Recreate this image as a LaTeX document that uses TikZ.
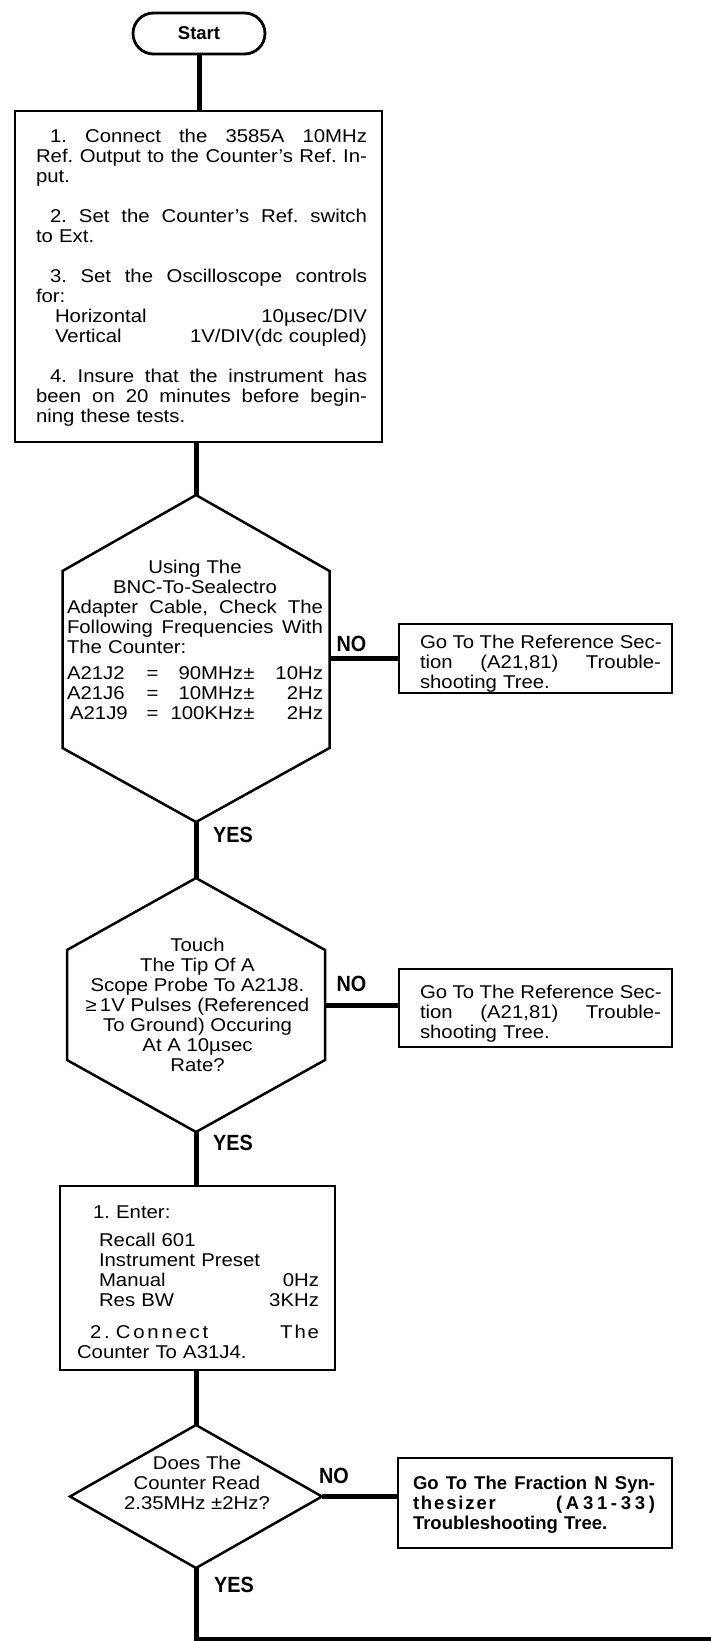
\documentclass[tikz,border=0pt]{standalone}
\usepackage{fontspec}
\setmainfont{Liberation Sans}[FakeStretch=1.1]
\newfontfamily\lblfont{Liberation Sans}[FakeStretch=0.9]
\newfontfamily\plainsans{Liberation Sans}
\usetikzlibrary{shapes.misc,calc}
\newcommand{\JLine}[2]{\makebox[#1pt][s]{\spaceskip=0.3em plus 1fil\relax #2}}
\newcommand{\LLine}[2]{\makebox[#1pt][l]{#2}}
\newcommand{\Lsp}[2]{{\addfontfeature{LetterSpace=#1}#2}}
\newcommand{\Trow}[3]{\makebox[78pt][l]{#1}\makebox[15pt][c]{=}\makebox[83pt][r]{#2}\makebox[12pt][c]{±}\makebox[68pt][r]{#3}}
\begin{document}\frenchspacing
\begin{tikzpicture}[x=1pt,y=-1pt,
  txt/.style={font=\fontsize{18.5}{20}\selectfont, inner sep=0pt, align=center},
  shp/.style={draw, line width=2.5pt, inner sep=0pt, fill=white},
  ghost/.style={inner sep=0pt, outer sep=0pt, draw=none},
  outline/.style={line width=2.5pt},
  conn/.style={line width=5pt},
  lbl/.style={font=\lblfont\bfseries\fontsize{22}{22}\selectfont, inner sep=0pt}]
\fill[white] (0,0) rectangle (710,1641);
\useasboundingbox (0,0) rectangle (710,1641);

% Start
\node[shp, rounded rectangle, minimum width=132pt, minimum height=41pt, line width=2.8pt,
      font=\plainsans\bfseries\fontsize{18.5}{20}\selectfont] (start) at (199,33.5) {Start};

% Box 1
\node[shp, minimum width=367pt, minimum height=331pt] (b1) at (198.5,276.5) {};
\node[txt, text width=331pt] (b1t) at (201.5,277.7) {%
\JLine{331}{\hspace*{14pt}1. Connect the 3585A 10MHz}\\
\JLine{331}{Ref. Output to the Counter’s Ref. In-}\\
\LLine{331}{put.}\\[20pt]
\JLine{331}{\hspace*{14pt}2. Set the Counter’s Ref. switch}\\
\LLine{331}{to Ext.}\\[20pt]
\JLine{331}{\hspace*{14pt}3. Set the Oscilloscope controls}\\
\LLine{331}{for:}\\
\LLine{331}{\hspace*{19pt}Horizontal\hfill 10µsec/DIV}\\
\LLine{331}{\hspace*{19pt}Vertical\hfill 1V/DIV(dc coupled)}\\[20pt]
\JLine{331}{\hspace*{14pt}4. Insure that the instrument has}\\
\JLine{331}{been on 20 minutes before begin-}\\
\LLine{331}{ning these tests.}};

% Hexagon 1
\node[ghost, minimum width=267pt, minimum height=327pt] (h1) at (196,658.5) {};
\draw[outline] (h1.north) -- ([yshift=-76pt]h1.north east) -- ([yshift=74pt]h1.south east)
  -- (h1.south) -- ([yshift=74pt]h1.south west) -- ([yshift=-76pt]h1.north west) -- cycle;
\node[txt, text width=256pt] (h1t) at (195,640) {%
Using The\\
BNC-To-Sealectro\\
\JLine{256}{Adapter Cable, Check The}\\
\JLine{256}{Following Frequencies With}\\
\LLine{256}{The Counter:}\\[6pt]
\Trow{A21J2}{90MHz}{10Hz}\\
\Trow{A21J6}{10MHz}{2Hz}\\
\Trow{\,A21J9}{100KHz}{2Hz}};

% NO box 1
\node[shp, minimum width=273pt, minimum height=69pt] (n1) at (535.5,658.5) {};
\node[txt, text width=241pt] (n1t) at (540.5,664) {%
\JLine{241}{Go To The Reference Sec-}\\
\JLine{241}{tion (A21,81) Trouble-}\\
\LLine{241}{shooting Tree.}};

% Hexagon 2
\node[ghost, minimum width=258pt, minimum height=254pt] (h2) at (196,1005) {};
\draw[outline] (h2.north) -- ([yshift=-72pt]h2.north east) -- ([yshift=72pt]h2.south east)
  -- (h2.south) -- ([yshift=72pt]h2.south west) -- ([yshift=-72pt]h2.north west) -- cycle;
\node[txt] (h2t) at (197.5,1005) {%
Touch\\
The Tip Of A\\
Scope Probe To A21J8.\\
≥\,1V Pulses (Referenced\\
To Ground) Occuring\\
At A 10µsec\\
Rate?};

% NO box 2
\node[shp, minimum width=273pt, minimum height=78pt] (n2) at (535.5,1008) {};
\node[txt, text width=241pt] (n2t) at (540.5,1014) {%
\JLine{241}{Go To The Reference Sec-}\\
\JLine{241}{tion (A21,81) Trouble-}\\
\LLine{241}{shooting Tree.}};

% Box 3
\node[shp, minimum width=275pt, minimum height=184pt] (b3) at (197.5,1278) {};
\node[txt, text width=242pt] (b3t) at (198,1282) {%
\LLine{242}{\hspace*{16pt}1. Enter:}\\[8pt]
\LLine{242}{\hspace*{22pt}Recall 601}\\
\LLine{242}{\hspace*{22pt}Instrument Preset}\\
\LLine{242}{\hspace*{22pt}Manual\hfill 0Hz}\\
\LLine{242}{\hspace*{22pt}Res BW\hfill 3KHz}\\[12pt]
\LLine{242}{\hspace*{13pt}\Lsp{15}{2. Connect}\hfill\Lsp{10}{The}}\\
\LLine{242}{Counter To A31J4.}};

% Diamond
\node[ghost, minimum width=252pt, minimum height=143pt] (d) at (196,1496.5) {};
\draw[outline] (d.north) -- (d.east) -- (d.south) -- (d.west) -- cycle;
\node[txt] (dt) at (197,1483) {Does The\\Counter Read\\2.35MHz ±2Hz?};

% NO box 3
\node[shp, minimum width=274pt, minimum height=90pt] (n3) at (535,1503) {};
\node[txt, text width=242pt, font=\plainsans\bfseries\fontsize{18.5}{20}\selectfont] (n3t) at (534,1504.7) {%
\JLine{242}{Go To The Fraction N Syn-}\\
\LLine{242}{\Lsp{10}{thesizer}\hfill\Lsp{20}{(A31-33)}}\\
\LLine{242}{Troubleshooting Tree.}};

% Labels
\node[lbl] (no1) at (351.5,643.5) {NO};
\node[lbl] (no2) at (351.5,983.5) {NO};
\node[lbl] (no3) at (334,1476) {NO};
\node[lbl] (yes1) at (233,834.5) {YES};
\node[lbl] (yes2) at (233,1142.5) {YES};
\node[lbl] (yes3) at (234,1585) {YES};

% Connectors
\draw[conn] (start.south) -- (start.south |- b1.north);
\draw[conn] (h1.north |- b1.south) -- (h1.north);
\draw[conn] (h1.south) -- (h1.south |- h2.north);
\draw[conn] (h2.south) -- (h2.south |- b3.north);
\draw[conn] (d.north |- b3.south) -- (d.north);
\coordinate (endc) at (712,1639);
\draw[conn] (d.south) |- (endc);
\draw[conn] (h1.east) -- (h1.east -| n1.west);
\draw[conn] (h2.east) -- (h2.east -| n2.west);
\draw[conn] (d.east) -- (d.east -| n3.west);
\end{tikzpicture}
\end{document}
